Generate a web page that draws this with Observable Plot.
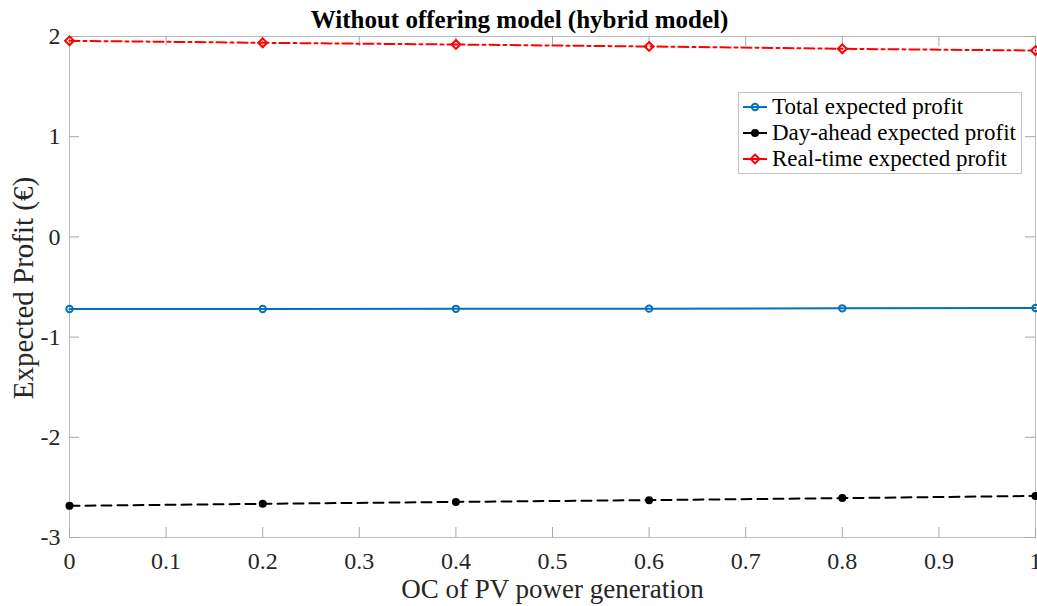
<!DOCTYPE html>
<html><head><meta charset="utf-8">
<script src="https://cdn.jsdelivr.net/npm/d3@7"></script>
<script src="https://cdn.jsdelivr.net/npm/@observablehq/plot@0.6"></script>
<style>
body{margin:0;background:#fff;}
#wrap{position:relative;width:1037px;height:606px;font-family:"Liberation Serif","Times New Roman",serif;}
#legend{position:absolute;left:738px;top:92px;width:282px;height:80px;border:1px solid #c4c4c4;background:#fff;}
.row{position:absolute;left:0;height:26px;width:282px;}
.row svg{position:absolute;left:4px;top:0;}
.row span{position:absolute;left:33px;top:0;line-height:26px;font-size:23px;color:#000;white-space:nowrap;}
</style>
</head><body><div id="wrap"></div>
<script>
const title = "Without offering model (hybrid model)";
const xLabel = "OC of PV power generation";
const yLabel = "Expected Profit (€)";
const xValues = [0, 0.2, 0.4, 0.6, 0.8, 1];
const totalProfit = [-0.72, -0.72, -0.718, -0.716, -0.713, -0.71];
const dayAheadProfit = [-2.684, -2.664, -2.645, -2.627, -2.607, -2.585];
const realTimeProfit = [1.957, 1.937, 1.92, 1.90, 1.877, 1.86];
const seriesNames = ["Total expected profit", "Day-ahead expected profit", "Real-time expected profit"];
const xTicks = [0, 0.1, 0.2, 0.3, 0.4, 0.5, 0.6, 0.7, 0.8, 0.9, 1];
const yTicks = [-3, -2, -1, 0, 1, 2];

const styles = [
  {color: "#0072BD", dash: null, symbol: "circle", fill: "none", r: 3.2},
  {color: "#000000", dash: "10,6", symbol: "circle", fill: "#000000", r: 3},
  {color: "#FF0000", dash: "10,4,3,4", symbol: "diamond2", fill: "none", r: 4}
];
const seriesValues = [totalProfit, dayAheadProfit, realTimeProfit];

const W = 1037, H = 606, mL = 69, mR = 2, mT = 36, mB = 69;
const fw = W - mL - mR, fh = H - mT - mB;
const font = '"Liberation Serif","Times New Roman",serif';

const lineMarks = [];
[2, 1, 0].forEach(i => {
  const rows = xValues.map((x, j) => ({x, y: seriesValues[i][j]}));
  const s = styles[i];
  lineMarks.push(Plot.line(rows, {x: "x", y: "y", stroke: s.color, strokeWidth: 2, strokeDasharray: s.dash}));
  lineMarks.push(Plot.dot(rows, {x: "x", y: "y", symbol: s.symbol, r: s.r, stroke: s.color, strokeWidth: 2, fill: s.fill}));
});

const chart = Plot.plot({
  width: W, height: H,
  marginLeft: mL, marginRight: mR, marginTop: mT, marginBottom: mB,
  style: {fontFamily: font, fontSize: "24px", color: "#262626", background: "#fff", overflow: "visible"},
  x: {domain: [0, 1]},
  y: {domain: [-3, 2]},
  marks: [
    Plot.frame({stroke: "#bdbdbd", strokeWidth: 1}),
    Plot.tickX(xTicks, {x: d => d, insetTop: fh - 10, stroke: "#a8a8a8"}),
    Plot.tickX(xTicks, {x: d => d, insetBottom: fh - 10, stroke: "#a8a8a8"}),
    Plot.tickY(yTicks, {y: d => d, insetRight: fw - 10, stroke: "#a8a8a8"}),
    Plot.tickY(yTicks, {y: d => d, insetLeft: fw - 10, stroke: "#a8a8a8"}),
    Plot.axisX({ticks: xTicks, tickSize: 0, tickPadding: 14, tickFormat: d => String(d), label: null, fontSize: 24}),
    Plot.axisY({ticks: yTicks, tickSize: 0, tickPadding: 9, tickFormat: d => String(d), label: null, fontSize: 24}),
    ...lineMarks,
    Plot.text([title], {text: d => d, frameAnchor: "top", lineAnchor: "middle", textAnchor: "middle", dx: -33, dy: -17, fontSize: 25, fontWeight: "bold", fill: "#000"}),
    Plot.text([xLabel], {text: d => d, frameAnchor: "bottom", lineAnchor: "middle", textAnchor: "middle", dy: 52, fontSize: 27, fill: "#262626"}),
    Plot.text([yLabel], {text: d => d, frameAnchor: "left", lineAnchor: "middle", textAnchor: "middle", dx: -46, dy: 1, rotate: -90, fontSize: 29, fill: "#262626"})
  ]
});
const wrap = document.getElementById("wrap");
wrap.appendChild(chart);

const legend = d3.select(wrap).append("div").attr("id", "legend");
seriesNames.forEach((name, i) => {
  const s = styles[i];
  const row = legend.append("div").attr("class", "row").style("top", (1 + i * 26) + "px");
  const svg = row.append("svg").attr("width", 26).attr("height", 26);
  svg.append("line").attr("x1", 0).attr("x2", 24).attr("y1", 13).attr("y2", 13)
    .attr("stroke", s.color).attr("stroke-width", 2);
  svg.append("path").attr("transform", "translate(12,13)")
    .attr("d", d3.symbol(s.symbol === "diamond2" ? d3.symbolDiamond2 : d3.symbolCircle, Math.PI * s.r * s.r)())
    .attr("stroke", s.color).attr("stroke-width", 2).attr("fill", s.fill);
  row.append("span").text(name);
});
</script>
</body></html>
